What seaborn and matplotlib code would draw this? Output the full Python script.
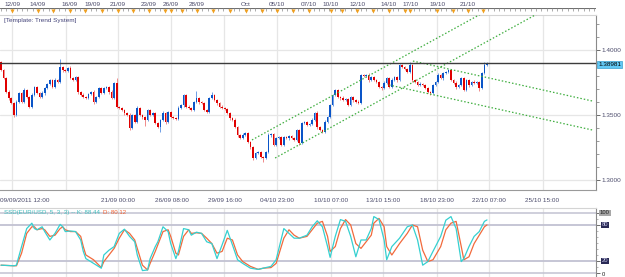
import numpy as np
import matplotlib
matplotlib.use("Agg")
import matplotlib.pyplot as plt
import matplotlib.transforms as mtrans
from matplotlib.ticker import FixedLocator, MultipleLocator
import seaborn as sns

sns.set_style("white")
plt.rcParams['font.family'] = ['Liberation Sans', 'DejaVu Sans']

# ---------------- data ----------------
first_open = 1.3908
closes = [
    1.3846, 1.3785, 1.3677, 1.3631, 1.3592, 1.3500, 1.3600, 1.3669, 1.3600, 1.3692,
    1.3638, 1.3562, 1.3654, 1.3715, 1.3669, 1.3638, 1.3669, 1.3708, 1.3738, 1.3769,
    1.3715, 1.3769, 1.3754, 1.3869, 1.3846, 1.3838, 1.3862, 1.3785, 1.3769, 1.3792,
    1.3677, 1.3654, 1.3638, 1.3631, 1.3662, 1.3677, 1.3600, 1.3638, 1.3708, 1.3669,
    1.3708, 1.3715, 1.3677, 1.3631, 1.3746, 1.3562, 1.3554, 1.3538, 1.3515, 1.3500,
    1.3400, 1.3500, 1.3446, 1.3554, 1.3500, 1.3485, 1.3462, 1.3538, 1.3500, 1.3515,
    1.3438, 1.3408, 1.3462, 1.3515, 1.3446, 1.3523, 1.3485, 1.3477, 1.3470, 1.3554,
    1.3577, 1.3654, 1.3562, 1.3554, 1.3538, 1.3600, 1.3631, 1.3600, 1.3592, 1.3538,
    1.3523, 1.3631, 1.3654, 1.3615, 1.3592, 1.3562, 1.3554, 1.3546, 1.3515, 1.3477,
    1.3462, 1.3408, 1.3346, 1.3323, 1.3346, 1.3362, 1.3292, 1.3254, 1.3169, 1.3208,
    1.3215, 1.3177, 1.3169, 1.3215, 1.3346, 1.3354, 1.3269, 1.3323, 1.3331, 1.3269,
    1.3331, 1.3323, 1.3338, 1.3323, 1.3308, 1.3385, 1.3285, 1.3438, 1.3446, 1.3423,
    1.3431, 1.3462, 1.3515, 1.3408, 1.3385, 1.3369, 1.3446, 1.3485, 1.3577, 1.3654,
    1.3692, 1.3638, 1.3631, 1.3615, 1.3623, 1.3577, 1.3638, 1.3615, 1.3600, 1.3592,
    1.3808, 1.3800, 1.3808, 1.3769, 1.3792, 1.3769, 1.3754, 1.3715, 1.3708, 1.3746,
    1.3785, 1.3715, 1.3769, 1.3792, 1.3769, 1.3885, 1.3869, 1.3854, 1.3831, 1.3885,
    1.3769, 1.3754, 1.3731, 1.3738, 1.3731, 1.3708, 1.3677, 1.3669, 1.3731, 1.3754,
    1.3808, 1.3785, 1.3823, 1.3831, 1.3846, 1.3769, 1.3746, 1.3715, 1.3731, 1.3785,
    1.3692, 1.3769, 1.3731, 1.3754, 1.3746, 1.3754, 1.3708, 1.3823, 1.3885, 1.3898,
]
upper_wick_pips = [
    6, 8, 10, 12, 6, 9, 14, 8, 10, 12,
    7, 9, 15, 10, 8, 6, 12, 9, 11, 8,
    10, 14, 8, 60, 9, 7, 10, 12, 8, 11,
    9, 8, 12, 6, 10, 9, 14, 8, 11, 7,
    8, 10, 9, 12, 10, 40, 8, 6, 9, 11,
    12, 8, 10, 14, 9, 7, 11, 10, 8, 9,
    10, 6, 9, 12, 8, 11, 7, 9, 10, 12,
    8, 10, 9, 14, 8, 11, 50, 9, 8, 10,
    7, 9, 20, 8, 10, 9, 12, 8, 10, 11,
    9, 12, 8, 10, 14, 9, 8, 11, 10, 7,
    9, 8, 6, 10, 12, 9, 11, 8, 10, 9,
    8, 10, 12, 9, 7, 11, 10, 12, 8, 9,
    10, 14, 9, 12, 8, 10, 12, 9, 11, 8,
    10, 9, 8, 12, 10, 9, 11, 8, 10, 12,
    9, 8, 10, 12, 9, 11, 8, 10, 9, 12,
    10, 8, 12, 9, 10, 11, 8, 9, 10, 23,
    9, 10, 8, 12, 9, 10, 11, 8, 10, 9,
    12, 8, 10, 9, 11, 8, 10, 12, 9, 10,
    8, 11, 9, 10, 12, 8, 10, 9, 23, 8,
]
lower_wick_pips = [
    8, 10, 9, 12, 8, 14, 10, 9, 11, 8,
    10, 12, 8, 9, 11, 10, 8, 12, 9, 10,
    9, 11, 8, 10, 12, 9, 8, 11, 10, 9,
    12, 8, 10, 9, 11, 8, 12, 10, 9, 11,
    10, 8, 12, 9, 10, 11, 9, 8, 12, 10,
    14, 9, 11, 8, 10, 12, 50, 9, 10, 8,
    11, 9, 40, 10, 12, 8, 11, 9, 10, 8,
    10, 12, 9, 8, 11, 10, 9, 12, 8, 10,
    9, 11, 8, 10, 12, 9, 10, 11, 8, 12,
    10, 9, 12, 8, 11, 10, 9, 12, 14, 10,
    9, 11, 30, 10, 8, 12, 9, 10, 11, 8,
    10, 9, 12, 8, 11, 10, 12, 9, 8, 10,
    11, 9, 10, 12, 8, 10, 10, 9, 11, 8,
    9, 10, 12, 8, 11, 10, 9, 12, 10, 11,
    8, 10, 9, 12, 10, 8, 11, 9, 12, 10,
    9, 11, 10, 8, 12, 9, 10, 11, 8, 10,
    12, 9, 10, 11, 8, 10, 9, 12, 10, 8,
    10, 9, 12, 8, 11, 10, 9, 12, 10, 11,
    9, 10, 12, 8, 10, 11, 25, 9, 10, 8,
]

stoch_bar = [0, 5, 6, 8, 10, 12, 13, 14, 16, 17, 19, 21, 23, 24, 25, 27, 29, 31, 32, 33,
             36, 39, 40, 42, 44, 46, 48, 50, 52, 53, 55, 57, 58, 60, 61, 63, 65, 66, 68, 69,
             71, 73, 74, 76, 78, 80, 82, 84, 86, 88, 90, 92, 94, 97, 100, 102, 105, 107, 110, 112,
             114, 116, 119, 121, 123, 125, 127, 128, 130, 132, 134, 136, 138, 140, 142, 144, 145, 147, 149, 150,
             152, 155, 158, 160, 162, 164, 166, 168, 171, 173, 175, 177, 179, 180, 182, 184, 186, 188, 189]
stoch_k = [13, 12, 13, 44, 74, 83, 74, 72, 77, 69, 55, 66, 81, 77, 69, 70, 69, 55, 36, 24,
           16, 8, 30, 38, 44, 66, 73, 61, 52, 30, 4, 5, 24, 44, 52, 77, 69, 49, 24, 36,
           74, 72, 63, 68, 66, 52, 49, 24, 47, 71, 47, 22, 16, 8, 6, 8, 11, 22, 74, 66,
           58, 58, 63, 77, 87, 77, 44, 26, 61, 89, 86, 61, 27, 55, 55, 74, 94, 89, 55, 22,
           44, 58, 77, 80, 55, 13, 19, 36, 61, 88, 94, 74, 19, 24, 44, 61, 69, 86, 88.44]
stoch_d = [13, 12, 12, 33, 66, 77, 77, 72, 74, 72, 61, 63, 74, 77, 72, 69, 69, 61, 44, 30,
           22, 9, 19, 30, 41, 58, 72, 66, 55, 41, 13, 5, 16, 36, 47, 69, 72, 61, 33, 30,
           61, 72, 66, 67, 66, 58, 49, 33, 36, 58, 55, 30, 19, 11, 6, 8, 9, 16, 58, 72,
           63, 58, 61, 72, 83, 86, 61, 36, 44, 74, 89, 80, 49, 41, 52, 63, 83, 91, 77, 44,
           30, 49, 66, 80, 77, 38, 19, 22, 44, 72, 83, 86, 44, 22, 27, 49, 63, 77, 80.12]

top_day_labels = ["12/09", "14/09", "16/09", "19/09", "21/09", "23/09", "26/09", "28/09", "Oct",
                  "05/10", "07/10", "10/10", "12/10", "14/10", "17/10", "19/10", "21/10"]
top_day_pos = [4.3, 14.4, 26.8, 35.4, 45.5, 57.6, 66.1, 76.2, 95.3,
               107.4, 119.8, 128.3, 138.5, 150.9, 159.1, 169.6, 181.6]
day_marker_pos = [4.3, 14.4, 20.2, 26.8, 32.7, 39.3, 45.5, 51.3, 57.6, 63.8, 66.1, 70.4, 76.2,
                  82.5, 89.1, 95.3, 101.5, 107.4, 113.6, 119.8, 128.4, 132.6, 138.5, 144.7,
                  150.9, 157.1, 159.1, 169.6, 175.8, 181.6, 187.5]

grid_pos = [4.3, 25.1, 45.5, 66.3, 86.9, 107.5, 128.2, 148.6, 169.4, 189.8, 210.6]
bottom_labels = ["09/09/2011 12:00", "", "21/09 00:00", "26/09 08:00", "29/09 16:00",
                 "04/10 23:00", "10/10 07:00", "13/10 15:00", "18/10 23:00",
                 "22/10 07:00", "25/10 15:00"]

price_ticks = [1.30, 1.35, 1.40]
price_tick_labels = ["1.3000", "1.3500", "1.4000"]
current_price = 1.38981
current_price_label = "1.38981"

trend_lines = {
    "up_upper": ([97.6, 240.0], [1.3308, 1.4858]),
    "up_lower": ([106.6, 240.0], [1.3169, 1.4620]),
    "down_upper": ([160.2, 229.9], [1.3915, 1.3608]),
    "down_lower": ([150.9, 229.9], [1.3731, 1.3385]),
}

stoch_levels = [0, 20, 80, 100]
stoch_title = "SSD(EUR/USD, 5, 3, 3) -- K: 88.44"
stoch_title_d = "D: 80.12"

# ---------------- layout ----------------
W, H = 625, 277
fig = plt.figure(figsize=(W / 100, H / 100), dpi=100)
fig.patch.set_facecolor("white")

def fy(py):
    return 1 - py / H

XL = (-0.39, 231.4)
RIGHT = 596 / W
grid_col = "#e6e6e6"
text_col = "#4a4a6a"
blue = "#0a55c8"
red = "#e00000"

# main panel
ax = fig.add_axes([0, fy(190), RIGHT, (190 - 15) / H])
ax.set_xlim(*XL)
ax.set_ylim(1.29231, 1.42692)
for g in grid_pos:
    ax.axvline(g, color=grid_col, lw=0.9, zorder=0)
for p in price_ticks:
    ax.axhline(p, color=grid_col, lw=0.9, zorder=0)

n = len(closes)
xs = np.arange(n)
opens = [first_open] + closes[:-1]
for i in range(n):
    o, c = opens[i], closes[i]
    up = c >= o
    col = blue if up else red
    wcol = "#6f9fe6" if up else "#f08a8a"
    hi = max(o, c) + upper_wick_pips[i] * 1e-4
    lo = min(o, c) - lower_wick_pips[i] * 1e-4
    ax.vlines(xs[i], lo, hi, colors=wcol, lw=0.7, zorder=2)
    hgt = max(abs(c - o), 0.00025)
    ax.bar(xs[i], hgt, bottom=min(o, c), width=0.62, color=col, linewidth=0, zorder=3)

for key, (tx, ty) in trend_lines.items():
    sns.lineplot(x=tx, y=ty, ax=ax, color="#3fae3f", linewidth=0.9,
                 linestyle=(0, (1.2, 1.6)), zorder=4)

ax.axhline(current_price, color="#3c3c3c", lw=1.0, zorder=5)

ax.text(1.2, 1.4225, "[Template: Trend System]", fontsize=4.6, color="#45457a",
        va="center", ha="left")

ax.spines["left"].set_visible(False)
ax.spines["top"].set_color("#d4d4d4")
ax.spines["top"].set_linewidth(0.8)
ax.spines["right"].set_color("#8a8a8a")
ax.spines["right"].set_linewidth(0.8)
ax.spines["bottom"].set_color("#9a9a9a")
ax.spines["bottom"].set_linewidth(0.8)

ax.yaxis.tick_right()
ax.set_yticks(price_ticks)
ax.set_yticklabels(price_tick_labels)
ax.yaxis.set_minor_locator(MultipleLocator(0.01))
ax.tick_params(axis="y", which="major", direction="out", length=3, width=0.7,
               color="#6a6a6a", labelsize=4.6, labelcolor=text_col, pad=1)
ax.tick_params(axis="y", which="minor", direction="out", length=2, width=0.6, color="#8a8a8a")

ax.set_xticks(grid_pos)
ax.set_xticklabels([])
step = (grid_pos[-1] - grid_pos[0]) / (len(grid_pos) - 1)
ax.xaxis.set_minor_locator(FixedLocator(np.arange(grid_pos[0] - step, XL[1], step / 4)))
ax.tick_params(axis="x", which="major", direction="out", length=3.2, width=0.7, color="#6a6a6a")
ax.tick_params(axis="x", which="minor", direction="out", length=1.6, width=0.6, color="#9a9a9a")
ax.set_xlabel("")
ax.set_ylabel("")

trans_b = mtrans.blended_transform_factory(ax.transData, ax.transAxes)
for i, (g, lab) in enumerate(zip(grid_pos, bottom_labels)):
    if not lab:
        continue
    if i == 0:
        ax.text(-0.3, -10 / 175, lab, transform=trans_b, fontsize=4.6, color=text_col,
                ha="left", va="center")
    else:
        ax.text(g, -10 / 175, lab, transform=trans_b, fontsize=4.6, color=text_col,
                ha="center", va="center")

# current price label
fig.text(598 / W, fy(64.5), current_price_label, fontsize=4.6, color="black", ha="left",
         va="center", bbox=dict(boxstyle="square,pad=0.15", fc="#62c8f4", ec="#3aa0d0", lw=0.5))

# top ruler
axt = fig.add_axes([0, fy(15), RIGHT, 7 / H])
axt.set_xlim(*XL)
axt.set_ylim(0, 1)
axt.axis("off")
axt.axhline(0.95, color="#707070", lw=0.8)
axt.vlines(np.arange(0, XL[1], 2.06), 0.6, 0.95, colors="#8a8a8a", lw=0.5)
axt.plot(day_marker_pos, [0.55] * len(day_marker_pos), linestyle="none", marker="v",
         markersize=3.0, color="#f0a020", markeredgewidth=0)
for p, lab in zip(top_day_pos, top_day_labels):
    axt.text(p, 1.55, lab, fontsize=4.6, color=text_col, ha="center", va="center")

# stochastic panel
ax2 = fig.add_axes([0, 0, RIGHT, 69 / H])
ax2.set_xlim(*XL)
ax2.set_ylim(-6.7, 108.3)
for g in grid_pos:
    ax2.axvline(g, color=grid_col, lw=0.9, zorder=0)
for lv in stoch_levels:
    ax2.axhline(lv, color="#c2c2d2", lw=1.3 if lv in (20, 80) else 1.1, zorder=1)
sns.lineplot(x=stoch_bar, y=stoch_k, ax=ax2, color="#35d0d0", linewidth=0.9, zorder=3)
sns.lineplot(x=stoch_bar, y=stoch_d, ax=ax2, color="#f26a3c", linewidth=0.9, zorder=2)
ax2.spines["left"].set_visible(False)
ax2.spines["bottom"].set_visible(False)
ax2.spines["top"].set_color("#d4d4d4")
ax2.spines["top"].set_linewidth(0.8)
ax2.spines["right"].set_color("#8a8a8a")
ax2.spines["right"].set_linewidth(0.8)
ax2.yaxis.tick_right()
ax2.set_yticks(stoch_levels)
ax2.set_yticklabels([])
ax2.yaxis.set_minor_locator(MultipleLocator(10))
ax2.tick_params(axis="y", which="major", direction="out", length=3, width=0.7, color="#6a6a6a")
ax2.tick_params(axis="y", which="minor", direction="out", length=1.5, width=0.5, color="#9a9a9a")
ax2.set_xticks([])
ax2.set_xlabel("")
ax2.set_ylabel("")

t1 = ax2.text(1.0, 101.5, stoch_title, fontsize=4.4, color="#3fbcbc", ha="left", va="center")
fig.canvas.draw()
bb = t1.get_window_extent()
inv = ax2.transData.inverted()
x_end = inv.transform((bb.x1, bb.y0))[0]
ax2.text(x_end + 1.5, 101.5, stoch_title_d, fontsize=4.4, color="#f06030", ha="left", va="center")

fig.text(600 / W, fy(213), "100", fontsize=4.2, color="#202020", ha="left", va="center",
         bbox=dict(boxstyle="square,pad=0.12", fc="#a8a8a8", ec="none"))
fig.text(602 / W, fy(225), "80", fontsize=4.2, color="#c8c8e8", ha="left", va="center",
         bbox=dict(boxstyle="square,pad=0.12", fc="#2a2a55", ec="none"))
fig.text(602 / W, fy(261), "20", fontsize=4.2, color="#c8c8e8", ha="left", va="center",
         bbox=dict(boxstyle="square,pad=0.12", fc="#2a2a55", ec="none"))
fig.text(602 / W, fy(274), "0", fontsize=4.2, color="#202020", ha="left", va="center")

fig.savefig("out.png", dpi=100, facecolor="white")
